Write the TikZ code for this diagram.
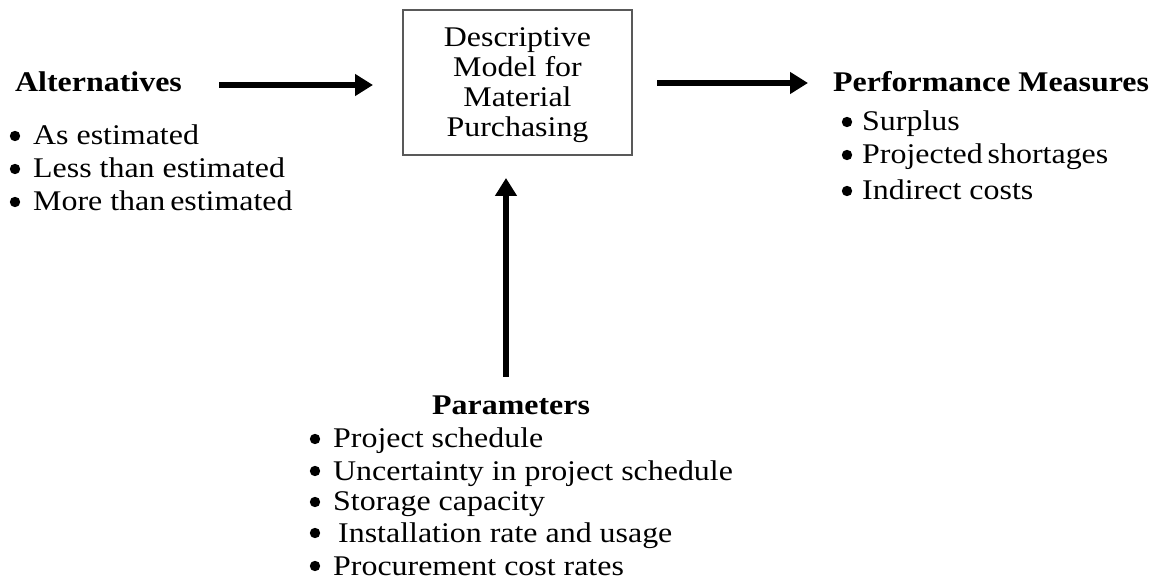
\documentclass[tikz,border=0pt]{standalone}
\usepackage{fontspec}
\setmainfont{Liberation Serif}[FakeStretch=1.12]
\usetikzlibrary{arrows.meta}
\begin{document}
\begin{tikzpicture}[x=1pt,y=-1pt,
  txt/.style={anchor=base west, inner sep=0pt, font=\fontsize{28.5}{30}\selectfont},
  head/.style={txt, font=\fontsize{28.5}{30}\selectfont\bfseries},
  ctxt/.style={txt, anchor=base},
  modelbox/.style={draw=black!65, line width=2pt, minimum width=229pt, minimum height=145pt, inner sep=0pt},
  dot/.style={fill=black},
  arr/.style={line width=6.5pt, -{Triangle[length=18pt,width=21pt]}}]
\useasboundingbox (0,0) rectangle (1163,585);
\fill[white] (0,0) rectangle (1163,585);
% central box
\node[modelbox] (box) at (517.5,82.5) {};
\node[ctxt] (b1) at (517.5,47) {Descriptive};
\node[ctxt] (b2) at (517.5,77) {Model for};
\node[ctxt] (b3) at (517.5,107) {Material};
\node[ctxt] (b4) at (517.5,137) {Purchasing};
% alternatives
\node[head] (alt) at (15,92) {Alternatives};
\node[txt] (alt1) at (33,145) {As estimated};
\node[txt] (alt2) at (33,178) {Less than estimated};
\node[txt] (alt3) at (33,211) {More than\hspace{-3pt} estimated};
\foreach \y in {136,169,202} \fill[dot] (15,\y) circle (5.2pt);
% performance
\node[head] (perf) at (833,92) {Performance Measures};
\node[txt] (p1) at (862,131) {Surplus};
\node[txt] (p2) at (862,164) {Projected\hspace{-3pt} shortages};
\node[txt] (p3) at (862,200) {Indirect costs};
\foreach \y in {122,155,191} \fill[dot] (847,\y) circle (5.2pt);
% parameters
\node[head] (par) at (432,415) {Parameters};
\node[txt] (q1) at (333,448) {Project schedule};
\node[txt] (q2) at (333,480) {Uncertainty in project schedule};
\node[txt] (q3) at (333,511) {Storage capacity};
\node[txt] (q4) at (338,542) {Installation rate and usage};
\node[txt] (q5) at (333,575) {Procurement cost rates};
\foreach \y in {439,471,502,533,566} \fill[dot] (315,\y) circle (5.2pt);
% arrows
\coordinate (a1s) at (219,85);
\coordinate (a1e) at (373,85);
\coordinate (a2s) at (657,83);
\coordinate (a2e) at (808,83);
\coordinate (a3s) at (506,377);
\coordinate (a3e) at (506,178);
\draw[arr] (a1s) -- (a1e);
\draw[arr] (a2s) -- (a2e);
\draw[arr] (a3s) -- (a3e);
\end{tikzpicture}
\end{document}
